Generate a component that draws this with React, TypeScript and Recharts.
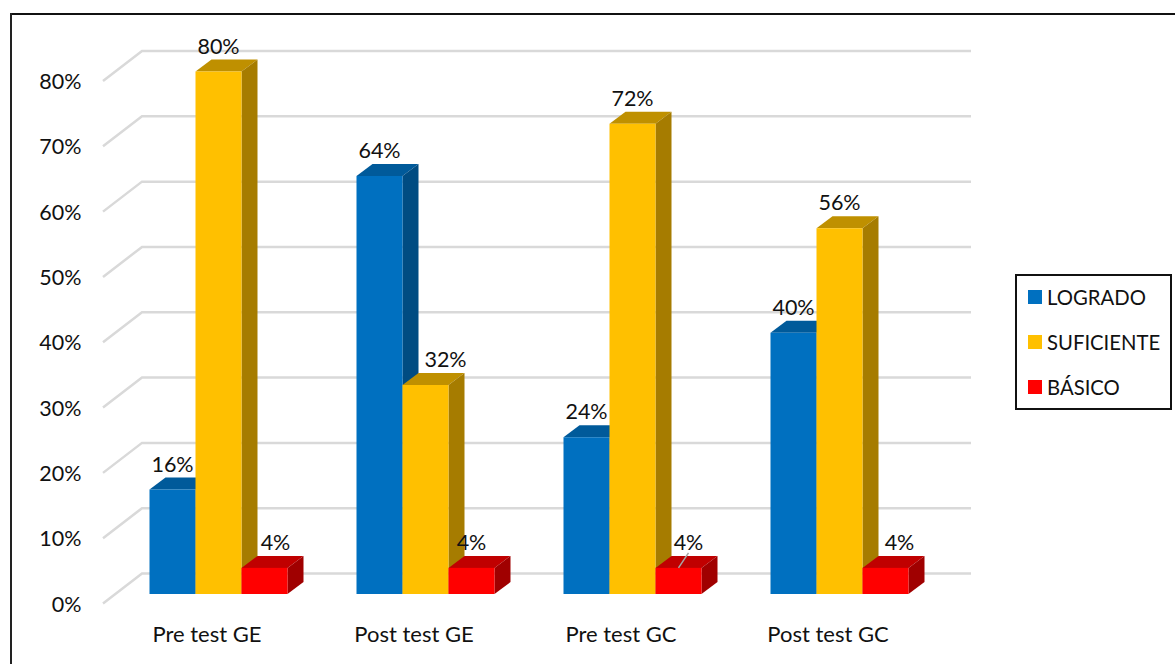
import React from 'react';
import { BarChart, Bar, XAxis, YAxis, CartesianGrid, Legend, LabelList } from 'recharts';

const categories = ['Pre test GE', 'Post test GE', 'Pre test GC', 'Post test GC'];
const logrado = [16, 64, 24, 40];
const suficiente = [80, 32, 72, 56];
const basico = [4, 4, 4, 4];
const yTicks = [0, 10, 20, 30, 40, 50, 60, 70, 80];

const data = categories.map((name, i) => ({
    name,
    logrado: logrado[i],
    suficiente: suficiente[i],
    basico: basico[i],
}));

const FONT = 'Lato, Carlito, sans-serif';
const DEPTH_X = 16; // depth of each 3d bar
const DEPTH_Y = 12;

const COLORS = {
    logrado: { front: '#0070C0', top: '#005A9A', side: '#004C82' },
    suficiente: { front: '#FFC000', top: '#BF9000', side: '#A67C00' },
    basico: { front: '#FF0000', top: '#C00000', side: '#A00000' },
};

const legendItems = [
    { label: 'LOGRADO', color: COLORS.logrado.front },
    { label: 'SUFICIENTE', color: COLORS.suficiente.front },
    { label: 'BÁSICO', color: COLORS.basico.front },
];

// the labels Excel had moved away from the top of their bar: series + category -> x shift
const labelShift = {
    'basico-0': 11,
    'suficiente-1': 20,
    'basico-2': 10,
    'basico-3': 14,
};

const bar3d = (colors) => (props) => {
    const { x, y, width, height } = props;
    const r = x + width;
    const b = y + height;
    return (
        <g>
            <polygon points={`${x},${y} ${x + DEPTH_X},${y - DEPTH_Y} ${r + DEPTH_X},${y - DEPTH_Y} ${r},${y}`} fill={colors.top} />
            <polygon points={`${r},${y} ${r + DEPTH_X},${y - DEPTH_Y} ${r + DEPTH_X},${b - DEPTH_Y} ${r},${b}`} fill={colors.side} />
            <rect x={x} y={y} width={width} height={height} fill={colors.front} />
        </g>
    );
};

// the floor/back wall lines: slanted part on the left, then along the back wall
const wallLine = (props) => {
    const { y1, x2 } = props;
    return (
        <polyline
            key={`wall-${y1}`}
            points={`103,${y1 + 9.5} 142,${y1 - 20.5} ${x2 + 28.5},${y1 - 20.5}`}
            fill="none"
            stroke="#D9D9D9"
            strokeWidth={2.5}
        />
    );
};

const valueLabel = (series) => (props) => {
    const { x, y, width, value, index } = props;
    const shift = labelShift[`${series}-${index}`] || 0;
    return (
        <g>
            {series === 'basico' && index === 2 && (
                <line x1={x + width / 2} y1={y} x2={x + width / 2 + 10} y2={y - 15} stroke="#A6A6A6" strokeWidth={1.5} />
            )}
            <text x={x + width / 2 + shift} y={y - 18} textAnchor="middle" fontFamily={FONT} fontSize={21.5} fill="#111">
                {`${value}%`}
            </text>
        </g>
    );
};

const legendBox = () => (
    <div style={{ boxSizing: 'border-box', width: 157, height: 136, border: '2px solid #111', background: '#fff' }}>
        <div style={{ marginTop: -1.5 }}>
            {legendItems.map((item) => (
                <div key={item.label} style={{ display: 'flex', alignItems: 'center', height: 45, paddingLeft: 11, fontFamily: FONT, fontSize: 20.3, color: '#111' }}>
                    <span style={{ width: 14, height: 14, background: item.color, marginRight: 5 }} />
                    {item.label}
                </div>
            ))}
        </div>
    </div>
);

const App = () => {
    return (
        <div style={{ position: 'fixed', left: 0, top: 0, width: 1175, height: 664, background: '#fff', overflow: 'hidden' }}>
            <div style={{ position: 'absolute', left: 10, top: 13, width: 1165, height: 2, background: '#111' }} />
            <div style={{ position: 'absolute', left: 10, top: 13, width: 2, height: 651, background: '#222' }} />
            <BarChart
                width={1175}
                height={664}
                data={data}
                barSize={46}
                barGap={0}
                margin={{ top: 71.5, right: 232.5, bottom: 0, left: 0 }}
            >
                <CartesianGrid vertical={false} horizontal={wallLine} />
                <XAxis
                    dataKey="name"
                    height={70}
                    axisLine={false}
                    tickLine={false}
                    interval={0}
                    dx={-11}
                    tickMargin={26}
                    tick={{ fontFamily: FONT, fontSize: 22, fill: '#111' }}
                />
                <YAxis
                    width={114.5}
                    domain={[0, 80]}
                    ticks={yTicks}
                    axisLine={false}
                    tickLine={false}
                    tickFormatter={(v) => `${v}%`}
                    dx={-25}
                    dy={10}
                    tick={{ fontFamily: FONT, fontSize: 21.5, fill: '#111' }}
                />
                <Legend
                    verticalAlign="middle"
                    content={legendBox}
                    wrapperStyle={{ position: 'absolute', left: 1015, top: 274, width: 157, bottom: 'auto', right: 'auto' }}
                />
                <Bar dataKey="logrado" name="LOGRADO" fill={COLORS.logrado.front} isAnimationActive={false} shape={bar3d(COLORS.logrado)}>
                    <LabelList dataKey="logrado" content={valueLabel('logrado')} />
                </Bar>
                <Bar dataKey="suficiente" name="SUFICIENTE" fill={COLORS.suficiente.front} isAnimationActive={false} shape={bar3d(COLORS.suficiente)}>
                    <LabelList dataKey="suficiente" content={valueLabel('suficiente')} />
                </Bar>
                <Bar dataKey="basico" name="BÁSICO" fill={COLORS.basico.front} isAnimationActive={false} shape={bar3d(COLORS.basico)}>
                    <LabelList dataKey="basico" content={valueLabel('basico')} />
                </Bar>
            </BarChart>
        </div>
    );
};

export default App;
